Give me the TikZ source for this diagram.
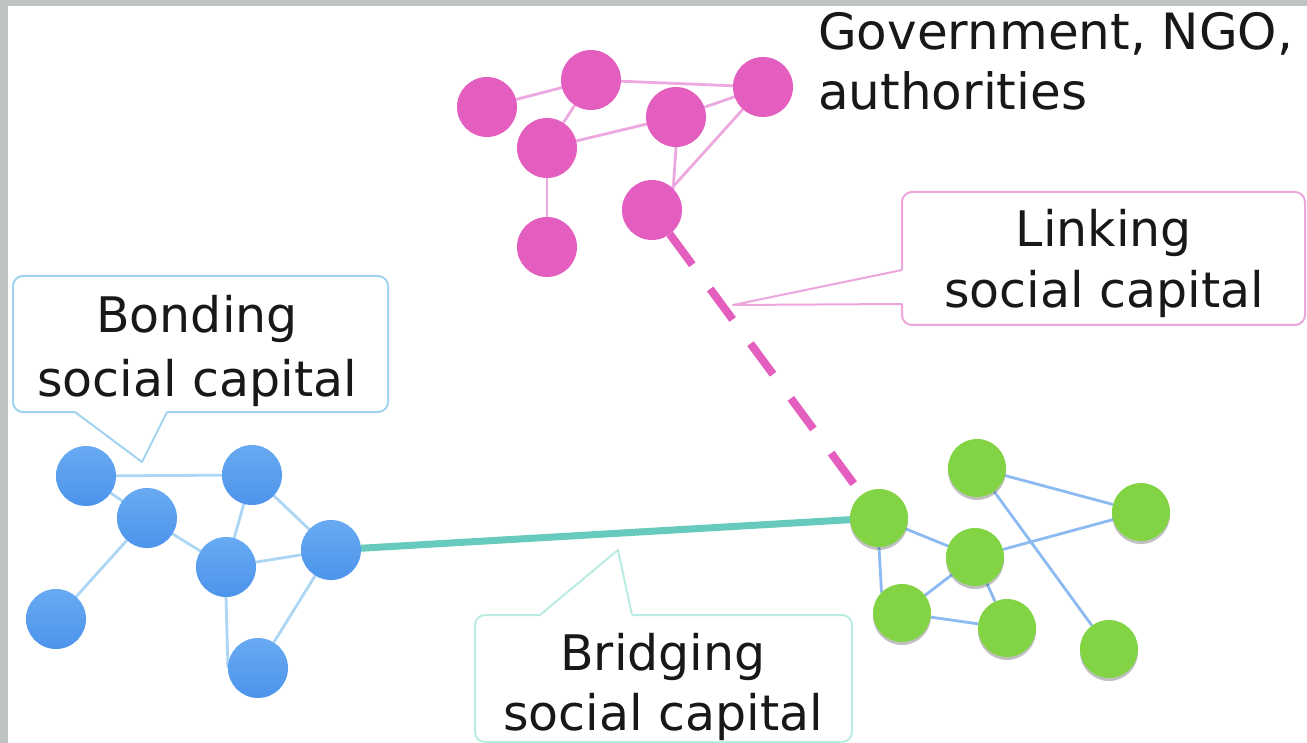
\documentclass[tikz,border=0pt]{standalone}
\usepackage{fontspec}
\setmainfont{DejaVu Sans}
\usetikzlibrary{shadows}
\pgfdeclarelayer{bg}
\pgfdeclarelayer{edges}
\pgfsetlayers{bg,edges,main}
\definecolor{pinkN}{RGB}{228,94,192}
\definecolor{pinkE}{RGB}{238,168,224}
\definecolor{blueTop}{RGB}{104,170,242}
\definecolor{blueBot}{RGB}{76,148,236}
\definecolor{blueE}{RGB}{172,214,244}
\definecolor{greenN}{RGB}{130,212,68}
\definecolor{greenE}{RGB}{140,186,242}
\definecolor{tealL}{RGB}{102,202,188}
\definecolor{tealC}{RGB}{186,236,228}
\definecolor{bondC}{RGB}{162,210,242}
\definecolor{linkC}{RGB}{236,166,222}
\definecolor{frameG}{RGB}{190,195,195}
\definecolor{txt}{RGB}{24,24,24}
\begin{document}
\begin{tikzpicture}[x=1pt,y=-1pt,
  nodebase/.style={circle, minimum size=60pt, inner sep=0pt, outer sep=0pt},
  pnode/.style={nodebase, fill=pinkN},
  bnode/.style={nodebase, top color=blueTop, bottom color=blueBot},
  gnode/.style={nodebase, minimum size=58pt, fill=greenN, drop shadow={shadow xshift=0pt, shadow yshift=-3pt, opacity=0.35, fill=black!70}},
  pedge/.style={draw=pinkE, line width=2.8pt},
  bedge/.style={draw=blueE, line width=2.8pt},
  gedge/.style={draw=greenE, line width=2.8pt},
  lbl/.style={font=\fontsize{49}{63}\selectfont, text=txt, align=center, inner sep=0pt},
  callout/.style={line width=2pt, line join=round},
]
\useasboundingbox (0,0) rectangle (1307,743);
\begin{pgfonlayer}{bg}
  \fill[white] (0,0) rectangle (1307,743);
\end{pgfonlayer}

% pink cluster
\node[pnode] (P1) at (487,107) {};
\node[pnode] (P2) at (591,80) {};
\node[pnode] (P3) at (763,87) {};
\node[pnode] (P4) at (676,117) {};
\node[pnode] (P5) at (547,148) {};
\node[pnode] (P6) at (652,210) {};
\node[pnode] (P7) at (547,247) {};

% blue cluster
\node[bnode] (B1) at (86,476) {};
\node[bnode] (B2) at (147,518) {};
\node[bnode] (B3) at (252,475) {};
\node[bnode] (B4) at (331,550) {};
\node[bnode] (B5) at (226,567) {};
\node[bnode] (B6) at (56,619) {};
\node[bnode] (B7) at (258,668) {};

% green cluster
\node[gnode] (G1) at (879,518) {};
\node[gnode] (G2) at (977,468) {};
\node[gnode] (G3) at (1141,512) {};
\node[gnode] (G4) at (975,557) {};
\node[gnode] (G5) at (902,613) {};
\node[gnode] (G6) at (1007,628) {};
\node[gnode] (G7) at (1109,649) {};

\begin{pgfonlayer}{edges}
  \draw[pedge] (P1) -- (P2);
  \draw[pedge] (P2) -- (P3);
  \draw[pedge] (P2) -- (P5);
  \draw[pedge] (P5) -- (P4);
  \draw[pedge] (P4) -- (P3);
  \draw[pedge] (P4.south) -- (P6.north east);
  \draw[pedge] (P3) -- (P6);
  \draw[pedge] (P5) -- (P7);

  \draw[bedge] (B1) -- (B3);
  \draw[bedge] (B1) -- (B2);
  \draw[bedge] (B2) -- (B5);
  \draw[bedge] (B2) -- (B6);
  \draw[bedge] (B3) -- (B5);
  \draw[bedge] (B3) -- (B4);
  \draw[bedge] (B5) -- (B4);
  \draw[bedge] (B5.south) -- (B7.west);
  \draw[bedge] (B4) -- (B7);

  \draw[gedge] (G1) -- (G4);
  \draw[gedge] (G1.south) -- (G5.north west);
  \draw[gedge] (G2) -- (G3);
  \draw[gedge] (G2) -- (G7);
  \draw[gedge] (G4) -- (G3);
  \draw[gedge] (G4) -- (G5);
  \draw[gedge] (G4) -- (G6);
  \draw[gedge] (G5) -- (G6);
\end{pgfonlayer}

% bridging and linking connectors
\draw[tealL, line width=7pt] (B4) -- (G1);
\draw[pinkN, line width=8pt, dash pattern=on 38pt off 30pt] (P6) -- (G1);

% labels (base anchor = baseline of last line)
\node[lbl, font=\fontsize{50}{60}\selectfont, align=left, anchor=base west] (gov) at (818,110) {Government, NGO,\\authorities};
\node[lbl, font=\fontsize{49}{64}\selectfont, anchor=base] (bond) at (197,396) {Bonding\\social capital};
\node[lbl, font=\fontsize{49}{61}\selectfont, anchor=base] (link) at (1104,308) {Linking\\social capital};
\node[lbl, font=\fontsize{49}{60}\selectfont, anchor=base] (bridge) at (663,730) {Bridging\\social capital};

% callout outlines
\draw[callout, bondC, rounded corners=10pt] (167,412) -- (388,412) -- (388,276) -- (13,276) -- (13,412) -- (75,412);
\draw[callout, bondC] (75,412) -- (142,462) -- (167,412);

\draw[callout, linkC, rounded corners=10pt] (902,304) -- (902,325) -- (1305,325) -- (1305,192) -- (902,192) -- (902,270);
\draw[callout, linkC] (902,270) -- (733,305) -- (902,304);

\draw[callout, tealC, rounded corners=10pt] (632,615) -- (852,615) -- (852,742) -- (475,742) -- (475,615) -- (540,615);
\draw[callout, tealC] (540,615) -- (618,550) -- (632,615);

% frame
\fill[frameG] (0,0) rectangle (1307,6);
\fill[frameG] (0,0) rectangle (8,743);
\end{tikzpicture}
\end{document}
